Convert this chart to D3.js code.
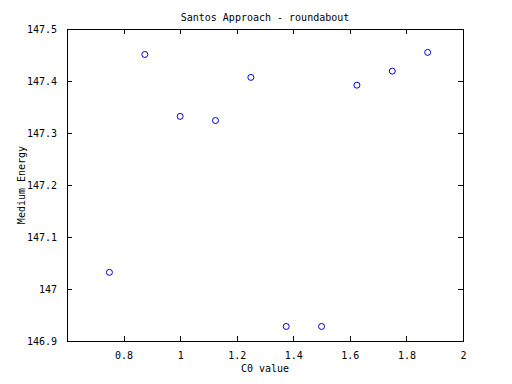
<!DOCTYPE html>
<html><head><meta charset="utf-8">
<script src="https://cdn.jsdelivr.net/npm/d3@7"></script>
<style>body{margin:0;background:#fff}svg{display:block}text{font-family:"DejaVu Sans Mono",monospace;font-size:10px;fill:#000}</style>
</head><body><svg id="c" width="512" height="384"></svg>
<script>
const xValues = [0.75, 0.875, 1.0, 1.125, 1.25, 1.375, 1.5, 1.625, 1.75, 1.875];
const yValues = [147.032, 147.451, 147.332, 147.324, 147.407, 146.928, 146.928, 147.392, 147.419, 147.455];
const xTicks = [0.8, 1, 1.2, 1.4, 1.6, 1.8, 2];
const yTicks = [146.9, 147, 147.1, 147.2, 147.3, 147.4, 147.5];
const title = "Santos Approach - roundabout";
const xLabel = "C0 value";
const yLabel = "Medium Energy";

const L = 67, R = 463, T = 29, B = 341;
const svg = d3.select("#c");
const x = d3.scaleLinear().domain([0.6, 2]).range([L, R]);
const y = d3.scaleLinear().domain([146.9, 147.5]).range([B, T]);
const fmt = d => String(+d.toFixed(1));
const tl = 5;

svg.append("rect").attr("x", L).attr("y", T).attr("width", R - L).attr("height", B - T)
  .attr("fill", "none").attr("stroke", "#000").attr("stroke-width", 1).attr("shape-rendering", "crispEdges");

const gx = svg.append("g").attr("transform", `translate(0,${B})`)
  .call(d3.axisBottom(x).tickValues(xTicks).tickSize(-tl).tickPadding(tl + 6).tickFormat(fmt));
const gxt = svg.append("g").attr("transform", `translate(0,${T})`)
  .call(d3.axisTop(x).tickValues(xTicks).tickSize(-tl).tickFormat(""));
const gy = svg.append("g").attr("transform", `translate(${L},0)`)
  .call(d3.axisLeft(y).tickValues(yTicks).tickSize(-tl).tickPadding(tl + 5).tickFormat(fmt));
const gyr = svg.append("g").attr("transform", `translate(${R},0)`)
  .call(d3.axisRight(y).tickValues(yTicks).tickSize(-tl).tickFormat(""));
[gx, gxt, gy, gyr].forEach(g => {
  g.select(".domain").remove();
  g.selectAll("line").attr("stroke", "#000").attr("shape-rendering", "crispEdges");
  g.selectAll("text").attr("font-family", "DejaVu Sans Mono").attr("font-size", 10).attr("fill", "#000");
});

svg.append("g").selectAll("circle").data(xValues).join("circle")
  .attr("cx", d => x(d)).attr("cy", (d, i) => y(yValues[i])).attr("r", 3)
  .attr("fill", "none").attr("stroke", "#0000cc").attr("stroke-width", 1);

svg.append("text").attr("x", (L + R) / 2).attr("y", 21).attr("text-anchor", "middle").text(title);
svg.append("text").attr("x", (L + R) / 2).attr("y", 372).attr("text-anchor", "middle").text(xLabel);
svg.append("text").attr("transform", `translate(25,${(T + B) / 2}) rotate(-90)`).attr("text-anchor", "middle").text(yLabel);
</script></body></html>
